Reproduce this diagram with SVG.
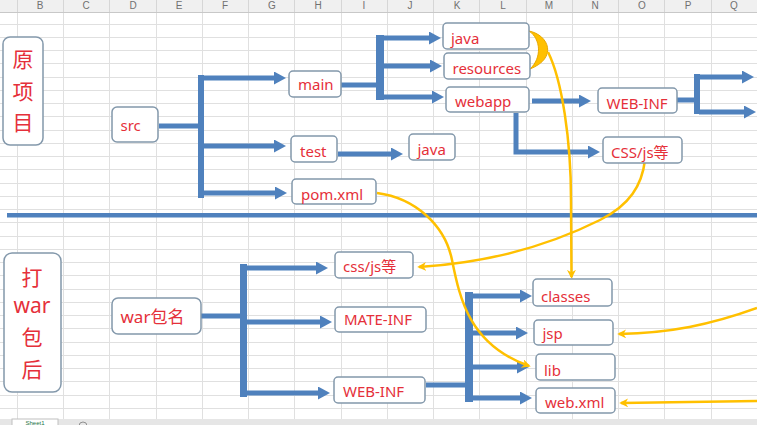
<svg xmlns="http://www.w3.org/2000/svg" width="757" height="425" viewBox="0 0 757 425">
<style>
.grid{stroke:#E0E0E0;stroke-width:1;fill:none}
.hdr{font-family:"Liberation Sans",sans-serif;font-size:10px;fill:#707070;text-anchor:middle}
.box{fill:#fff;stroke:#8398AB;stroke-width:1.5}
.t{font-family:"Noto Sans","Noto Sans CJK SC",sans-serif;font-size:15px;fill:#E5303A}
.big{font-family:"Noto Sans","Noto Sans CJK SC",sans-serif;font-size:21px;fill:#E5303A;text-anchor:middle}
.b{stroke:#4F81BD;stroke-width:5;fill:none}
.ba{stroke:#4F81BD;stroke-width:5;fill:none;marker-end:url(#ba)}
.bar{fill:#4F81BD}
.y{stroke:#FFC000;stroke-width:2.5;fill:none;marker-end:url(#ya)}
</style>
<defs>
<marker id="ba" viewBox="0 0 12 13" refX="2" refY="6.5" markerWidth="12" markerHeight="13" markerUnits="userSpaceOnUse" orient="auto"><path d="M0,0 L12,6.5 L0,13 z" fill="#4F81BD"/></marker>
<marker id="ya" viewBox="0 0 10 10" refX="8" refY="5" markerWidth="9" markerHeight="9" markerUnits="userSpaceOnUse" orient="auto"><path d="M0,0 L10,5 L0,10 L3,5 z" fill="#FFC000"/></marker>
</defs>
<rect x="0" y="0" width="757" height="425" fill="#fff"/>
<g id="sheet">
<path class="grid" d="M0,24.5H757M0,37.5H757M0,50.5H757M0,63.5H757M0,77.5H757M0,90.5H757M0,103.5H757M0,116.5H757M0,130.5H757M0,143.5H757M0,156.5H757M0,169.5H757M0,183.5H757M0,196.5H757M0,209.5H757M0,222.5H757M0,236.5H757M0,249.5H757M0,262.5H757M0,275.5H757M0,289.5H757M0,302.5H757M0,315.5H757M0,328.5H757M0,342.5H757M0,355.5H757M0,368.5H757M0,381.5H757M0,395.5H757M0,408.5H757"/>
<path class="grid" d="M17.5,12V419M63.5,12V419M109.5,12V419M156.5,12V419M202.5,12V419M248.5,12V419M294.5,12V419M341.5,12V419M387.5,12V419M433.5,12V419M479.5,12V419M526.5,12V419M572.5,12V419M618.5,12V419M664.5,12V419M711.5,12V419"/>
<rect x="0" y="0" width="757" height="12" fill="#F0F0F0"/>
<path d="M0,12.5H757" stroke="#C8C8C8"/>
<path d="M17.5,0V12M63.5,0V12M109.5,0V12M156.5,0V12M202.5,0V12M248.5,0V12M294.5,0V12M341.5,0V12M387.5,0V12M433.5,0V12M479.5,0V12M526.5,0V12M572.5,0V12M618.5,0V12M664.5,0V12M711.5,0V12" stroke="#D6D6D6"/>
<text class="hdr" x="40" y="9">B</text><text class="hdr" x="86" y="9">C</text><text class="hdr" x="133" y="9">D</text><text class="hdr" x="179" y="9">E</text><text class="hdr" x="225" y="9">F</text><text class="hdr" x="272" y="9">G</text><text class="hdr" x="318" y="9">H</text><text class="hdr" x="364" y="9">I</text><text class="hdr" x="410" y="9">J</text><text class="hdr" x="457" y="9">K</text><text class="hdr" x="503" y="9">L</text><text class="hdr" x="549" y="9">M</text><text class="hdr" x="595" y="9">N</text><text class="hdr" x="642" y="9">O</text><text class="hdr" x="688" y="9">P</text><text class="hdr" x="734" y="9">Q</text>
<rect x="0" y="419" width="757" height="6" fill="#E6E6E6"/>
<rect x="12" y="419" width="46" height="7" fill="#fff" stroke="#C0C0C0"/>
<text x="35" y="424.5" font-family="Liberation Sans,sans-serif" font-size="6" fill="#217346" text-anchor="middle">Sheet1</text>
<circle cx="83" cy="426" r="4" fill="none" stroke="#909090"/>
</g>
<rect x="7" y="213" width="750" height="4.5" fill="#4F81BD"/>
<g id="connectors">
<path class="b" d="M159,126H200"/>
<rect class="bar" x="198" y="75" width="6" height="123"/>
<path class="ba" d="M201,78H276"/>
<path class="ba" d="M201,146H276"/>
<path class="ba" d="M201,193H277"/>
<path class="b" d="M341,85H378"/>
<rect class="bar" x="376" y="35" width="8" height="65"/>
<path class="ba" d="M383,38H431"/>
<path class="ba" d="M383,66H432"/>
<path class="ba" d="M383,97H434"/>
<path class="ba" d="M338,154H393"/>
<path class="ba" d="M532,101H581"/>
<path class="ba" d="M516,113V152H590"/>
<path class="b" d="M677,100H696"/>
<rect class="bar" x="694" y="74" width="6" height="40"/>
<path class="ba" d="M699,77H744"/>
<path class="ba" d="M699,112H746"/>
<path class="b" d="M201,316H242"/>
<rect class="bar" x="240" y="264" width="7" height="133"/>
<path class="ba" d="M245,268H318"/>
<path class="ba" d="M245,322H322"/>
<path class="ba" d="M245,393H320"/>
<path class="b" d="M426,385H467"/>
<rect class="bar" x="465" y="292" width="8" height="110"/>
<path class="ba" d="M472,296H522"/>
<path class="ba" d="M472,333H518"/>
<path class="ba" d="M472,367H519"/>
<path class="ba" d="M472,398H522"/>
<path d="M529,31 C549,35 558,58 530,69 C542,58 541,39 529,31 Z" fill="#FFC000" stroke="#E8A800" stroke-width="1"/>
<path class="y" d="M548,52 C562,80 571,140 571,200 L571.5,277"/>
<path class="y" d="M645,160 C642,185 630,205 600,220 C560,240 500,262 419,267"/>
<path class="y" d="M377,193 C415,198 445,225 452,260 C460,300 470,345 529,366"/>
<path class="y" d="M757,308 C710,325 670,333 619,334"/>
<path class="y" d="M757,401 L621,403"/>
</g>
<g id="n-yuan"><rect class="box" x="3" y="37" width="40" height="108" rx="7"/><text class="big" x="23" y="67">原</text><text class="big" x="23" y="98.5">项</text><text class="big" x="23" y="129.5">目</text></g>
<g id="n-da"><rect class="box" x="4" y="253" width="57" height="139" rx="8"/><text class="big" x="32" y="285">打</text><text class="big" x="32" y="313">war</text><text class="big" x="32" y="345">包</text><text class="big" x="32" y="376.5">后</text></g>
<g id="n-src"><rect class="box" x="112" y="107" width="46" height="35" rx="5"/><text class="t" x="120.5" y="131">src</text></g>
<g id="n-main"><rect class="box" x="289" y="71" width="52" height="26" rx="4"/><text class="t" x="298" y="90">main</text></g>
<g id="n-test"><rect class="box" x="291" y="136" width="46" height="26" rx="4"/><text class="t" x="300" y="157">test</text></g>
<g id="n-pom"><rect class="box" x="292" y="179" width="84" height="25" rx="4"/><text class="t" x="301" y="200">pom.xml</text></g>
<g id="n-java1"><rect class="box" x="443" y="23" width="86" height="26" rx="4"/><text class="t" x="451" y="43.5">java</text></g>
<g id="n-res"><rect class="box" x="444" y="53" width="86" height="26" rx="4"/><text class="t" x="452.5" y="74">resources</text></g>
<g id="n-webapp"><rect class="box" x="446" y="87" width="83" height="25" rx="4"/><text class="t" x="455" y="107">webapp</text></g>
<g id="n-webinf1"><rect class="box" x="598" y="88" width="79" height="25" rx="4"/><text class="t" x="606.5" y="109">WEB-INF</text></g>
<g id="n-css1"><rect class="box" x="603" y="137" width="79" height="26" rx="4"/><text class="t" x="611" y="158">CSS/js等</text></g>
<g id="n-java2"><rect class="box" x="409" y="134" width="46" height="26" rx="4"/><text class="t" x="417.5" y="155">java</text></g>
<g id="n-war"><rect class="box" x="112" y="298" width="89" height="36" rx="6"/><text class="t" x="120.5" y="323" style="font-size:17px">war包名</text></g>
<g id="n-css2"><rect class="box" x="335" y="252" width="78" height="26" rx="4"/><text class="t" x="343" y="272">css/js等</text></g>
<g id="n-mate"><rect class="box" x="335" y="307" width="91" height="25" rx="4"/><text class="t" x="344" y="325">MATE-INF</text></g>
<g id="n-webinf2"><rect class="box" x="334" y="377" width="91" height="26" rx="4"/><text class="t" x="343" y="396.5">WEB-INF</text></g>
<g id="n-classes"><rect class="box" x="533" y="279" width="79" height="27" rx="4"/><text class="t" x="541" y="301.5">classes</text></g>
<g id="n-jsp"><rect class="box" x="534" y="320" width="79" height="25" rx="4"/><text class="t" x="542.5" y="339">jsp</text></g>
<g id="n-lib"><rect class="box" x="536" y="354" width="79" height="26" rx="4"/><text class="t" x="544" y="375.5">lib</text></g>
<g id="n-webxml"><rect class="box" x="536" y="388" width="79" height="25" rx="4"/><text class="t" x="545" y="407.5">web.xml</text></g>
</svg>
